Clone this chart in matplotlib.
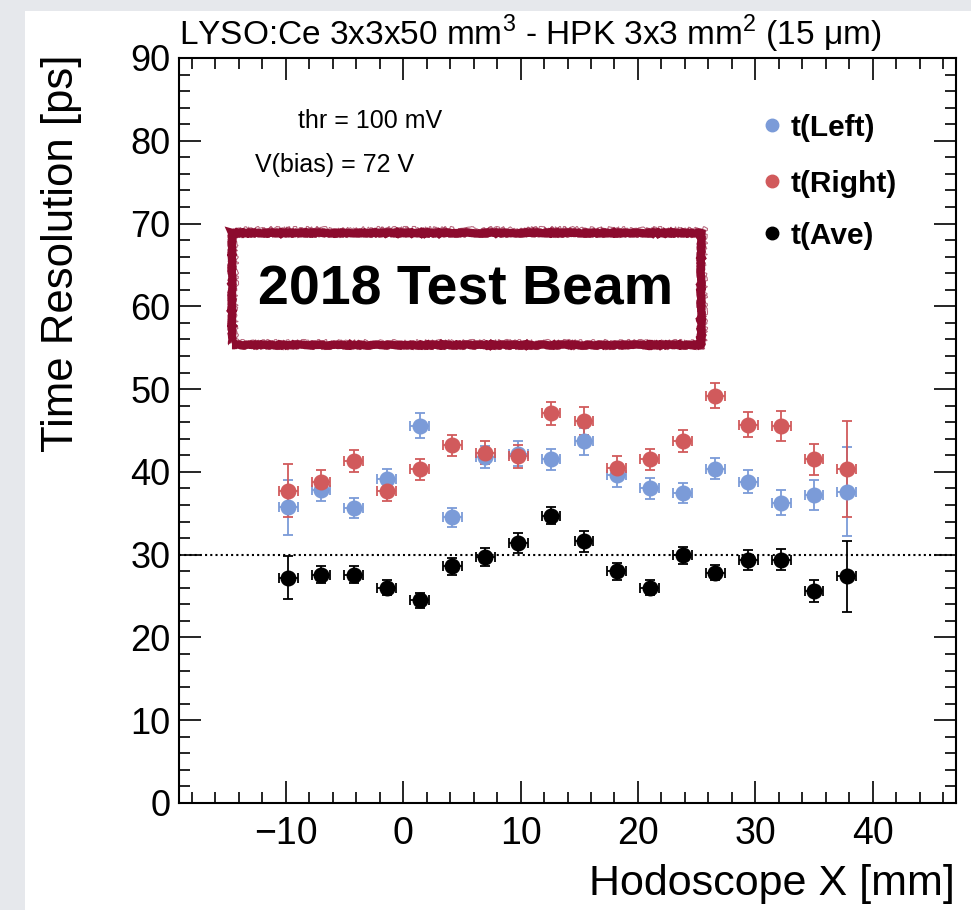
import numpy as np
import matplotlib.pyplot as plt
from matplotlib.patches import Rectangle
from matplotlib.ticker import MultipleLocator

plt.rcParams['font.family'] = ['Liberation Sans', 'DejaVu Sans']
plt.rcParams['mathtext.fontset'] = 'custom'
plt.rcParams['mathtext.rm'] = 'Liberation Sans'

# hodoscope bin centres [mm]
x_pos = [-9.8, -7.0, -4.2, -1.4, 1.4, 4.2, 7.0, 9.8, 12.6, 15.4,
         18.2, 21.0, 23.8, 26.6, 29.4, 32.2, 35.0, 37.8]
x_err = 0.8

# time resolution [ps]
t_left = [35.7, 37.8, 35.6, 39.2, 45.6, 34.5, 41.8, 42.2, 41.5, 43.7,
          39.6, 38.0, 37.4, 40.4, 38.8, 36.3, 37.2, 37.6]
t_left_err = [3.3, 1.3, 1.2, 1.2, 1.5, 1.1, 1.3, 1.5, 1.3, 1.6,
              1.4, 1.3, 1.2, 1.3, 1.4, 1.5, 1.8, 5.4]
t_right = [37.7, 38.8, 41.3, 37.7, 40.3, 43.2, 42.3, 41.9, 47.1, 46.1,
           40.5, 41.5, 43.7, 49.2, 45.7, 45.5, 41.5, 40.4]
t_right_err = [3.2, 1.4, 1.3, 1.2, 1.3, 1.3, 1.4, 1.4, 1.4, 1.7,
               1.4, 1.3, 1.3, 1.5, 1.5, 1.8, 1.9, 5.8]
t_ave = [27.2, 27.6, 27.6, 26.0, 24.5, 28.6, 29.7, 31.4, 34.7, 31.6,
         28.0, 26.0, 29.9, 27.8, 29.4, 29.4, 25.6, 27.4]
t_ave_err = [2.6, 1.0, 1.0, 0.9, 0.9, 1.0, 1.1, 1.2, 1.0, 1.3,
             1.0, 0.9, 1.0, 0.9, 1.2, 1.3, 1.3, 4.3]

series = [("t(Left)", t_left, t_left_err, '#7b9bd8'),
          ("t(Right)", t_right, t_right_err, '#d15a5c'),
          ("t(Ave)", t_ave, t_ave_err, 'black')]

fig = plt.figure(figsize=(9.71, 9.10), dpi=100)
fig.patch.set_facecolor('white')
# grey slide border at top and left
fig.patches.append(Rectangle((0, 0), 25/971, 1, transform=fig.transFigure,
                             facecolor='#e6e8ec', edgecolor='none', zorder=0))
fig.patches.append(Rectangle((0, 1 - 11/910), 1, 11/910, transform=fig.transFigure,
                             facecolor='#e6e8ec', edgecolor='none', zorder=0))

ax = fig.add_axes([179/971, 1 - 803/910, 777/971, 745/910])
ax.set_xlim(-19.1, 47.1)
ax.set_ylim(0, 90)

for name, y, yerr, col in series:
    ax.errorbar(x_pos, y, xerr=x_err, yerr=yerr, fmt='o', color=col, ecolor=col,
                markersize=10.5, elinewidth=1.3, capsize=3.5, capthick=1.3, zorder=3)

ax.axhline(30, color='black', linestyle=(0, (1, 1.5)), linewidth=1.5, zorder=2)

ax.xaxis.set_major_locator(MultipleLocator(10))
ax.xaxis.set_minor_locator(MultipleLocator(2))
ax.yaxis.set_major_locator(MultipleLocator(10))
ax.yaxis.set_minor_locator(MultipleLocator(2))
ax.tick_params(which='both', direction='in', top=True, right=True, width=1.2)
ax.tick_params(which='major', length=16)
ax.tick_params(which='minor', length=8)
ax.tick_params(axis='x', labelsize=27, pad=9)
ax.tick_params(axis='y', labelsize=26, pad=6)
for sp in ax.spines.values():
    sp.set_linewidth(1.5)

ax.text(0.0, 1.017, r"LYSO:Ce 3x3x50 mm$^{\mathrm{3}}$ - HPK 3x3 mm$^{\mathrm{2}}$ (15 μm)",
        transform=ax.transAxes, ha='left', va='baseline', fontsize=24)
fig.text(62/971, 1 - 54/910, "Time Resolution [ps]", rotation=90, ha='center',
         va='top', fontsize=31.5)
fig.text(955/971, 1 - 895/910, "Hodoscope X [mm]", ha='right', va='baseline',
         fontsize=31)

# run conditions
ax.text(-9.0, 81.5, "thr = 100 mV", fontsize=18, ha='left', va='baseline')
ax.text(-12.6, 76.2, "V(bias) = 72 V", fontsize=18, ha='left', va='baseline')

# legend
leg_y = [81.9, 75.2, 68.8]
for (name, y, yerr, col), ly in zip(series, leg_y):
    ax.plot([31.4], [ly], 'o', color=col, markersize=9, zorder=4)
    ax.text(33.0, ly, name, fontsize=21.5, fontweight='bold', ha='left',
            va='center_baseline', zorder=4)

# stamp box: a heavy frame plus a few scratchy strokes
stamp_col = '#8c0b2e'
strokes = [(0, 0, 6.0, 0.5, 1.0),
           (0.2, -0.35, 1.2, 1.2, 0.8),
           (-0.25, 0.4, 1.0, 1.5, 0.7),
           (0.35, 0.55, 0.8, 2.0, 0.6)]
for dx, dy, lw, sc, a in strokes:
    r = Rectangle((-14.6 + dx, 55.3 + dy), 40.0, 13.6, fill=False,
                  edgecolor=stamp_col, linewidth=lw, alpha=a, zorder=5)
    r.set_sketch_params(scale=sc, length=12, randomness=20)
    ax.add_patch(r)
ax.text(5.3, 61.9, "2018 Test Beam", fontsize=40, fontweight='bold',
        ha='center', va='center', zorder=6)

fig.savefig("out.png", dpi=100)
